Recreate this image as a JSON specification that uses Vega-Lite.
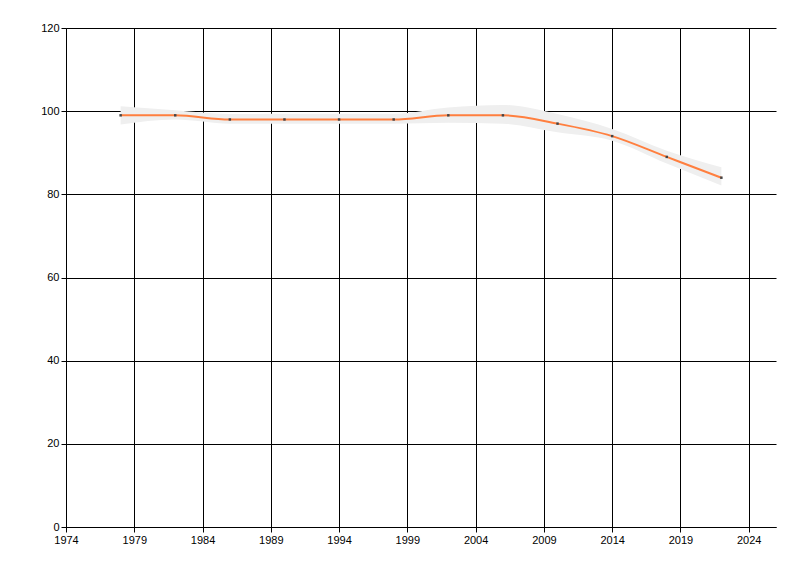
{
  "$schema": "https://vega.github.io/schema/vega-lite/v6.json",
  "width": 710,
  "height": 499,
  "autosize": "none",
  "padding": {"left": 66, "top": 28, "right": 24, "bottom": 49},
  "background": "white",
  "config": {
    "view": {"stroke": null},
    "axis": {
      "labelFont": "Liberation Sans",
      "labelFontSize": 11,
      "labelColor": "#000000",
      "domainColor": "#000000",
      "tickColor": "#000000",
      "gridColor": "#000000",
      "gridOpacity": 1,
      "gridWidth": 1,
      "domainWidth": 1,
      "tickSize": 5,
      "title": null
    }
  },
  "data": {
    "values": [
      {"year": 1978, "value": 99, "lower": 96.8, "upper": 101.2},
      {"year": 1982, "value": 99, "lower": 98.0, "upper": 100.2},
      {"year": 1986, "value": 98, "lower": 97.0, "upper": 99.3},
      {"year": 1990, "value": 98, "lower": 97.0, "upper": 99.4},
      {"year": 1994, "value": 98, "lower": 97.0, "upper": 99.4},
      {"year": 1998, "value": 98, "lower": 97.0, "upper": 99.4},
      {"year": 2002, "value": 99, "lower": 97.2, "upper": 100.9},
      {"year": 2006, "value": 99, "lower": 97.0, "upper": 101.5},
      {"year": 2010, "value": 97, "lower": 94.9, "upper": 99.3},
      {"year": 2014, "value": 94, "lower": 92.9, "upper": 95.7},
      {"year": 2018, "value": 89, "lower": 87.4, "upper": 90.5},
      {"year": 2022, "value": 84, "lower": 82.1, "upper": 86.5}
    ]
  },
  "encoding": {
    "x": {
      "field": "year",
      "type": "quantitative",
      "scale": {"domain": [1974, 2026], "nice": false, "zero": false},
      "axis": {
        "values": [1974, 1979, 1984, 1989, 1994, 1999, 2004, 2009, 2014, 2019, 2024],
        "format": "d",
        "grid": true,
        "labelPadding": 2,
        "labelFlush": false
      }
    }
  },
  "layer": [
    {
      "mark": {"type": "area", "color": "#EFEFEF", "opacity": 1, "interpolate": "monotone"},
      "encoding": {
        "y": {
          "field": "lower",
          "type": "quantitative",
          "scale": {"domain": [0, 120], "nice": false},
          "axis": {
            "values": [0, 20, 40, 60, 80, 100, 120],
            "grid": true,
            "labelPadding": 2
          }
        },
        "y2": {"field": "upper"}
      }
    },
    {
      "mark": {"type": "line", "color": "#FF7F3F", "strokeWidth": 2, "interpolate": "monotone"},
      "encoding": {
        "y": {"field": "value", "type": "quantitative"}
      }
    },
    {
      "mark": {"type": "square", "color": "#444444", "size": 6, "opacity": 1, "filled": true},
      "encoding": {
        "y": {"field": "value", "type": "quantitative"}
      }
    }
  ]
}
